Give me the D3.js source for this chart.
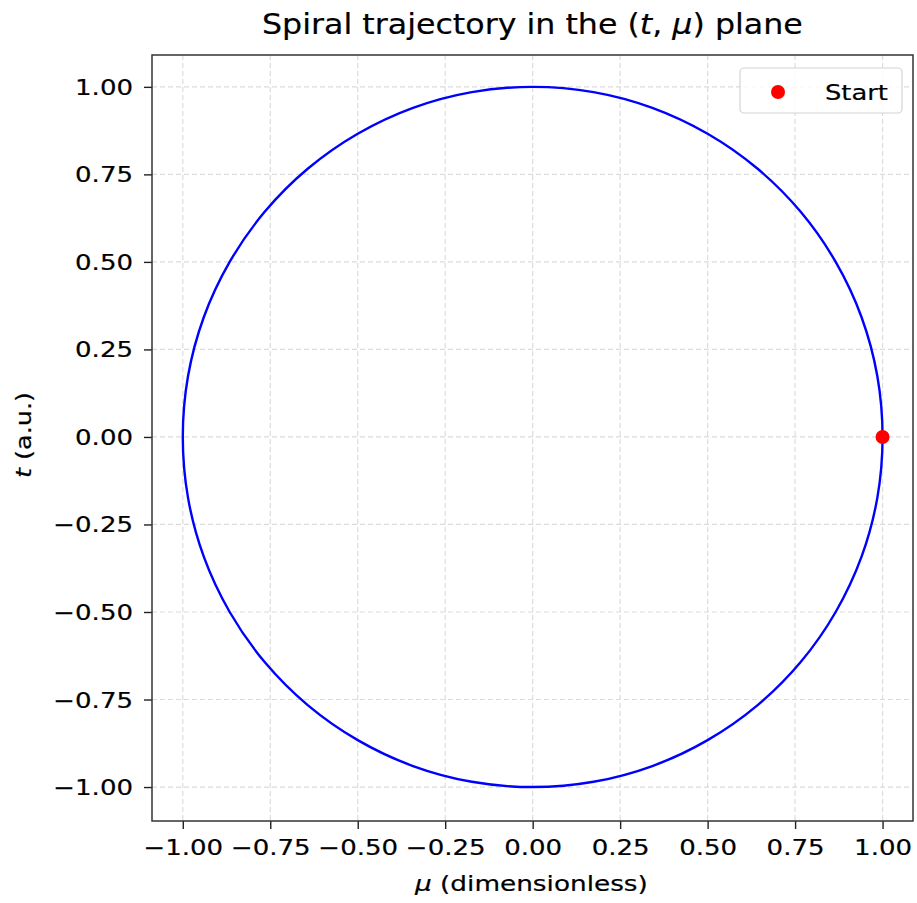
<!DOCTYPE html>
<html><head><meta charset="utf-8">
<script src="https://cdn.jsdelivr.net/npm/d3@7"></script>
<style>body{margin:0;background:#fff}svg{display:block}text{font-family:"DejaVu Sans",sans-serif;fill:#000}</style>
</head><body><svg id="c" width="917" height="903"></svg>
<script>
const muValues = [1.000,0.985,0.940,0.866,0.766,0.643,0.500,0.342,0.174,0.000,-0.174,-0.342,-0.500,-0.643,-0.766,-0.866,-0.940,-0.985,-1.000,-0.985,-0.940,-0.866,-0.766,-0.643,-0.500,-0.342,-0.174,0.000,0.174,0.342,0.500,0.643,0.766,0.866,0.940,0.985];
const tValues  = [0.000,0.174,0.342,0.500,0.643,0.766,0.866,0.940,0.985,1.000,0.985,0.940,0.866,0.766,0.643,0.500,0.342,0.174,0.000,-0.174,-0.342,-0.500,-0.643,-0.766,-0.866,-0.940,-0.985,-1.000,-0.985,-0.940,-0.866,-0.766,-0.643,-0.500,-0.342,-0.174];
const startPoint = [1.0, 0.0];
const xTicks = [-1.00,-0.75,-0.50,-0.25,0.00,0.25,0.50,0.75,1.00];
const yTicks = [-1.00,-0.75,-0.50,-0.25,0.00,0.25,0.50,0.75,1.00];
const xDomain = [-1.088, 1.087];
const yDomain = [-1.097, 1.091];

const svg = d3.select("#c");
const L=152,R=913,T=55,B=821;
const x = d3.scaleLinear().domain(xDomain).range([L,R]);
const y = d3.scaleLinear().domain(yDomain).range([B,T]);
const fmt = v => (v<0?"\u2212":"")+Math.abs(v).toFixed(2);
const SX = 1.24;

function stretch(sel, px, py, opts){
  const n = sel.node();
  const w = n.getComputedTextLength();
  const s = opts.width ? opts.width / w : opts.sx;
  sel.attr("x",0).attr("y",0).attr("stroke","#000").attr("stroke-width",0.2)
     .attr("transform",`translate(${px},${py}) ${opts.rot?`rotate(${opts.rot})`:""} scale(${s},1)`);
}

// grid
const g = svg.append("g");
g.selectAll(".gx").data(xTicks).enter().append("line")
 .attr("x1",d=>x(d)).attr("x2",d=>x(d)).attr("y1",T).attr("y2",B)
 .attr("stroke","#dcdcdc").attr("stroke-width",1.2).attr("stroke-dasharray","5,3");
g.selectAll(".gy").data(yTicks).enter().append("line")
 .attr("y1",d=>y(d)).attr("y2",d=>y(d)).attr("x1",L).attr("x2",R)
 .attr("stroke","#dcdcdc").attr("stroke-width",1.2).attr("stroke-dasharray","5,3");

// curve
const pts = muValues.map((m,i)=>[m,tValues[i]]);
svg.append("path").datum(pts)
 .attr("d", d3.line().x(d=>x(d[0])).y(d=>y(d[1])).curve(d3.curveCatmullRomClosed.alpha(0.5)))
 .attr("fill","none").attr("stroke","#0000ff").attr("stroke-width",2.4);

// start point
svg.append("circle").attr("cx",x(startPoint[0])).attr("cy",y(startPoint[1])).attr("r",7).attr("fill","#ff0000");

// axes
const xa = svg.append("g").attr("transform",`translate(0,${B})`)
 .call(d3.axisBottom(x).tickValues(xTicks).tickFormat(fmt).tickSizeOuter(0).tickSizeInner(8));
const ya = svg.append("g").attr("transform",`translate(${L},0)`)
 .call(d3.axisLeft(y).tickValues(yTicks).tickFormat(fmt).tickSizeOuter(0).tickSizeInner(8));
[xa,ya].forEach(a=>{a.select(".domain").remove();a.selectAll("line").attr("stroke","#222").attr("stroke-width",1.4);
 a.selectAll("text").attr("font-size",21).attr("font-family","DejaVu Sans").attr("fill","#000").attr("dy",null);});
xa.selectAll(".tick text").each(function(){ stretch(d3.select(this), 0, 34, {sx:SX}); });
ya.selectAll(".tick text").each(function(){ stretch(d3.select(this), -19, 7.5, {sx:SX}); });

svg.append("rect").attr("x",L).attr("y",T).attr("width",R-L).attr("height",B-T)
 .attr("fill","none").attr("stroke","#333").attr("stroke-width",1.5);

// legend
svg.append("rect").attr("x",740).attr("y",68).attr("width",162).attr("height",45).attr("rx",4)
 .attr("fill","#fff").attr("fill-opacity",0.8).attr("stroke","#d4d4d4").attr("stroke-width",1.2);
svg.append("circle").attr("cx",778).attr("cy",92).attr("r",7).attr("fill","#ff0000");
stretch(svg.append("text").attr("font-size",21).text("Start"), 825, 99.5, {width:63});

// title
const title = svg.append("text").attr("font-size",29);
title.append("tspan").text("Spiral trajectory in the (");
title.append("tspan").attr("font-style","italic").text("t");
title.append("tspan").text(", ");
title.append("tspan").attr("font-style","italic").text("\u03bc");
title.append("tspan").text(") plane");
stretch(title, 262, 34, {width:541});

// x label
const xl = svg.append("text").attr("font-size",21);
xl.append("tspan").attr("font-style","italic").text("\u03bc");
xl.append("tspan").text(" (dimensionless)");
stretch(xl, 415, 891, {width:233});
// y label
const yl = svg.append("text").attr("font-size",21);
yl.append("tspan").attr("font-style","italic").text("t");
yl.append("tspan").text(" (a.u.)");
stretch(yl, 31, 478, {width:86, rot:-90});
</script></body></html>
